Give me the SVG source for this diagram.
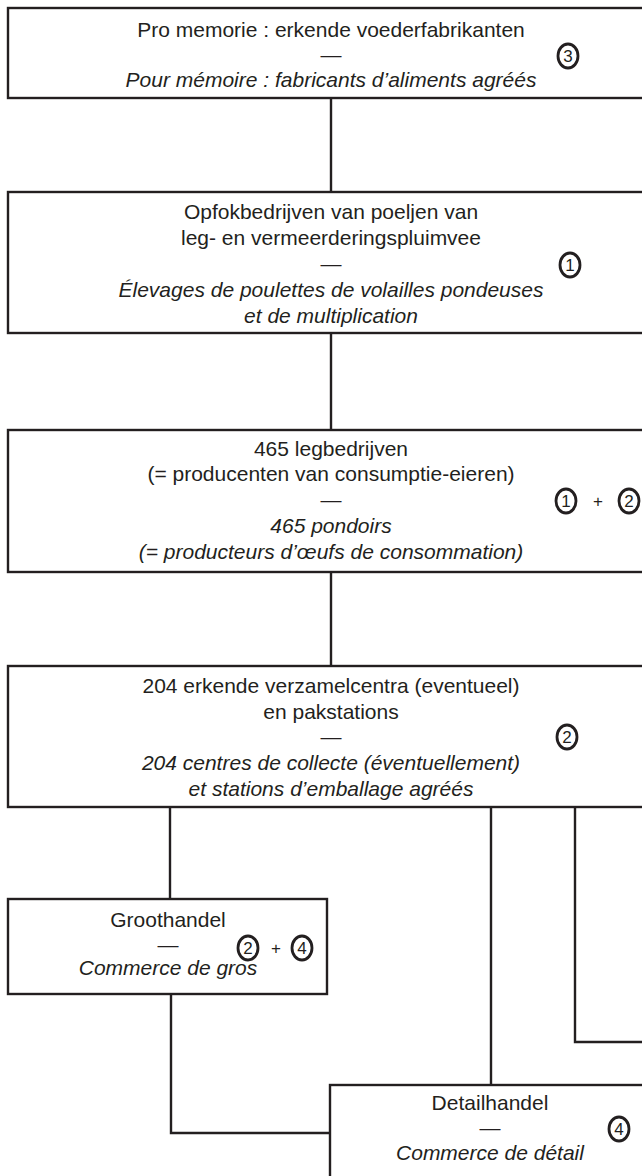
<svg xmlns="http://www.w3.org/2000/svg" width="642" height="1176" viewBox="0 0 642 1176">
<style>
.box{fill:#fff;stroke:#231f20;stroke-width:2.4}
.con{fill:none;stroke:#231f20;stroke-width:2.4}
text{font-family:"Liberation Sans",Arial,sans-serif;font-size:21px;fill:#231f20;text-anchor:middle}
.it{font-style:italic}
.num{font-size:17px}
.plus{font-size:17px}
.circ{fill:none;stroke:#231f20;stroke-width:2.8}
</style>
<g id="connectors">
<path class="con" d="M331 98V192"/>
<path class="con" d="M331 333V430"/>
<path class="con" d="M331 572V666"/>
<path class="con" d="M170 807V899"/>
<path class="con" d="M491 807V1085"/>
<path class="con" d="M575 807V1042H650"/>
<path class="con" d="M171 994V1133H330"/>
</g>
<g id="n1">
<rect class="box" x="8" y="8" width="650" height="90"/>
<text x="331" y="37">Pro memorie : erkende voederfabrikanten</text>
<text x="331" y="62">—</text>
<text x="331" y="87" class="it">Pour mémoire : fabricants d’aliments agréés</text>
<ellipse class="circ" cx="568" cy="56" rx="10" ry="12"/><text class="num" x="568" y="62">3</text>
</g>
<g id="n2">
<rect class="box" x="8" y="192" width="650" height="141"/>
<text x="331" y="219">Opfokbedrijven van poeljen van</text>
<text x="331" y="245">leg- en vermeerderingspluimvee</text>
<text x="331" y="271">—</text>
<text x="331" y="297" class="it">Élevages de poulettes de volailles pondeuses</text>
<text x="331" y="323" class="it">et de multiplication</text>
<ellipse class="circ" cx="570" cy="265" rx="10" ry="12"/><text class="num" x="570" y="271">1</text>
</g>
<g id="n3">
<rect class="box" x="8" y="430" width="650" height="142"/>
<text x="331" y="456">465 legbedrijven</text>
<text x="331" y="481">(= producenten van consumptie-eieren)</text>
<text x="331" y="507">—</text>
<text x="331" y="533" class="it">465 pondoirs</text>
<text x="331" y="559" class="it">(= producteurs d’œufs de consommation)</text>
<ellipse class="circ" cx="566" cy="501" rx="10" ry="12"/><text class="num" x="566" y="507">1</text>
<text class="plus" x="598" y="507">+</text>
<ellipse class="circ" cx="629" cy="501" rx="10" ry="12"/><text class="num" x="629" y="507">2</text>
</g>
<g id="n4">
<rect class="box" x="8" y="666" width="650" height="141"/>
<text x="331" y="693">204 erkende verzamelcentra (eventueel)</text>
<text x="331" y="719">en pakstations</text>
<text x="331" y="744">—</text>
<text x="331" y="770" class="it">204 centres de collecte (éventuellement)</text>
<text x="331" y="796" class="it">et stations d’emballage agréés</text>
<ellipse class="circ" cx="567" cy="737" rx="10" ry="12"/><text class="num" x="567" y="743">2</text>
</g>
<g id="n5">
<rect class="box" x="8" y="899" width="319" height="95"/>
<text x="168" y="927">Groothandel</text>
<text x="168" y="952">—</text>
<text x="168" y="975" class="it">Commerce de gros</text>
<ellipse class="circ" cx="248" cy="948" rx="10" ry="12"/><text class="num" x="248" y="954">2</text>
<text class="plus" x="276" y="954">+</text>
<ellipse class="circ" cx="302" cy="948" rx="10" ry="12"/><text class="num" x="302" y="954">4</text>
</g>
<g id="n6">
<rect class="box" x="330" y="1085" width="320" height="100"/>
<text x="490" y="1110">Detailhandel</text>
<text x="490" y="1135">—</text>
<text x="490" y="1160" class="it">Commerce de détail</text>
<ellipse class="circ" cx="619" cy="1129" rx="10" ry="12"/><text class="num" x="619" y="1135">4</text>
</g>
</svg>
